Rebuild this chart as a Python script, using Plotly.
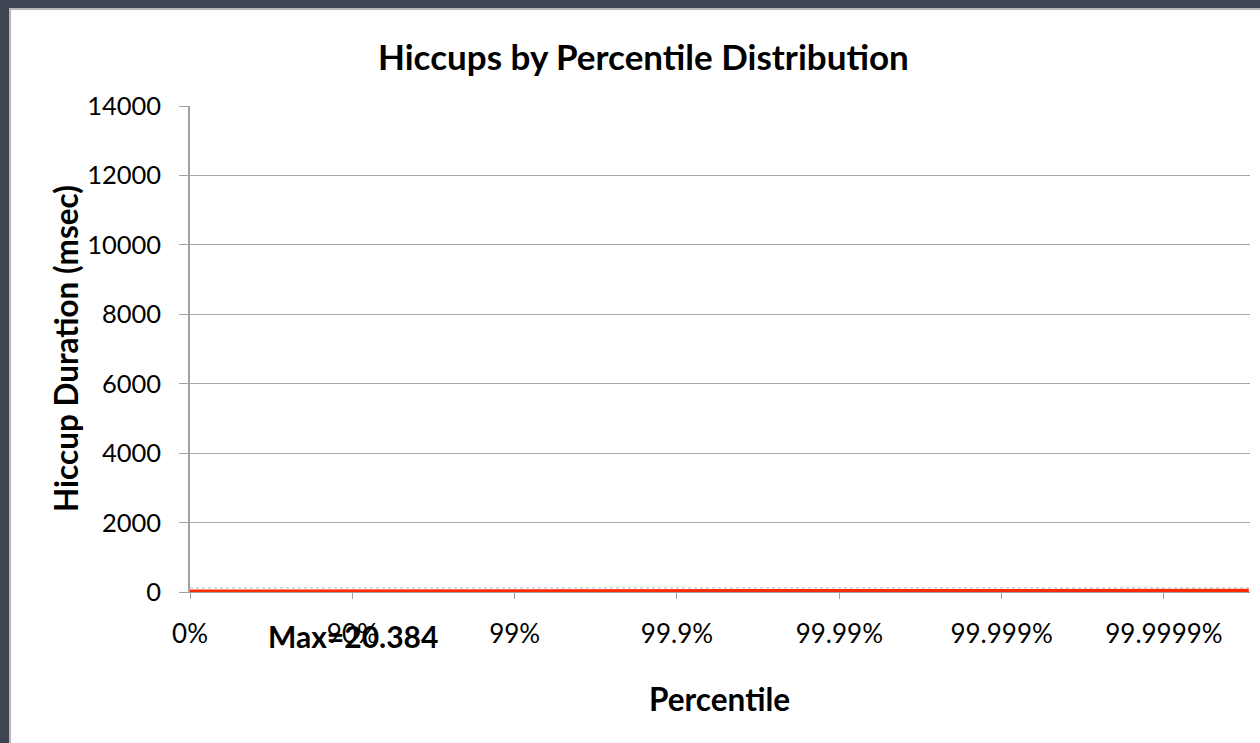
import plotly.graph_objects as go

# Data
percentiles = [0, 50, 90, 99, 99.9, 99.99, 99.999, 99.9999, 99.99997]
hiccup_msec = [0.6, 1.3, 2.4, 4.8, 9.7, 14.9, 19.2, 20.384, 20.384]
sla_msec = [120, 120, 120, 120, 120, 120, 120, 120, 120]
tick_percentiles = [0, 90, 99, 99.9, 99.99, 99.999, 99.9999]
tick_labels = ["0%", "90%", "99%", "99.9%", "99.99%", "99.999%", "99.9999%"]
y_ticks = [0, 2000, 4000, 6000, 8000, 10000, 12000, 14000]
y_tick_labels = ["0", "2000", "4000", "6000", "8000", "10000", "12000", "14000"]
max_label = "Max=20.384"


def to_x(p):
    return 1.0 / (1.0 - p / 100.0)


xs = [to_x(p) for p in percentiles]
tick_x = [to_x(p) for p in tick_percentiles]

FONT = "Lato"

fig = go.Figure()
fig.add_trace(go.Scatter(x=xs, y=sla_msec, mode="lines",
                         line=dict(color="#b4bccb", width=1, dash="dot"),
                         showlegend=False, hoverinfo="skip"))
fig.add_trace(go.Scatter(x=xs, y=hiccup_msec, mode="lines",
                         line=dict(color="#ff2a00", width=5),
                         showlegend=False))

W, H = 1260, 743
L, R, T, B = 190, 10, 106, 151
pw, ph = W - L - R, H - T - B


def px(x):
    return (x - L) / pw


def py(y):
    return (H - B - y) / ph


fig.add_shape(type="rect", xref="paper", yref="paper",
              x0=px(10), x1=px(1262), y0=py(745), y1=py(9),
              fillcolor="white", line=dict(color="#b8b8b8", width=2),
              layer="below")

fig.add_annotation(text="<b>Hiccups by Percentile Distribution</b>",
                   xref="paper", yref="paper", x=px(643), y=py(56),
                   showarrow=False, font=dict(family=FONT, size=35, color="black"),
                   xanchor="center", yanchor="middle")
fig.add_annotation(text="<b>Percentile</b>",
                   xref="paper", yref="paper", x=px(719), y=py(699),
                   showarrow=False, font=dict(family=FONT, size=31.5, color="black"),
                   xanchor="center", yanchor="middle")
fig.add_annotation(text="<b>Hiccup Duration (msec)</b>",
                   xref="paper", yref="paper", x=px(66), y=py(349),
                   showarrow=False, textangle=-90,
                   font=dict(family=FONT, size=31.5, color="black"),
                   xanchor="center", yanchor="middle")
fig.add_annotation(text="<b>" + max_label + "</b>",
                   xref="paper", yref="paper", x=px(353), y=py(636),
                   showarrow=False, font=dict(family=FONT, size=30, color="black"),
                   xanchor="center", yanchor="middle")

fig.update_layout(
    width=W, height=H,
    margin=dict(l=L, r=R, t=T, b=B),
    paper_bgcolor="#3e4452",
    plot_bgcolor="white",
    font=dict(family=FONT, size=26, color="black"),
    showlegend=False,
)
fig.update_xaxes(type="log", range=[0, 6.53], tickvals=tick_x, ticktext=tick_labels,
                 showgrid=False, ticks="outside", ticklen=6, tickcolor="#a0a0a0",
                 showline=True, linecolor="#a0a0a0", linewidth=1,
                 ticklabelstandoff=13,
                 tickfont=dict(family=FONT, size=26), zeroline=False)
fig.update_yaxes(range=[0, 14000], tickvals=y_ticks, ticktext=y_tick_labels,
                 showgrid=True, gridcolor="#a8a8a8", gridwidth=1,
                 ticks="outside", ticklen=9, tickcolor="#a0a0a0",
                 showline=True, linecolor="#a0a0a0", linewidth=1.5,
                 ticklabelstandoff=13,
                 tickfont=dict(family=FONT, size=25.5), zeroline=False)

fig.write_html("out.html", config={"displayModeBar": False},
               post_script="document.body.style.margin='0';")
